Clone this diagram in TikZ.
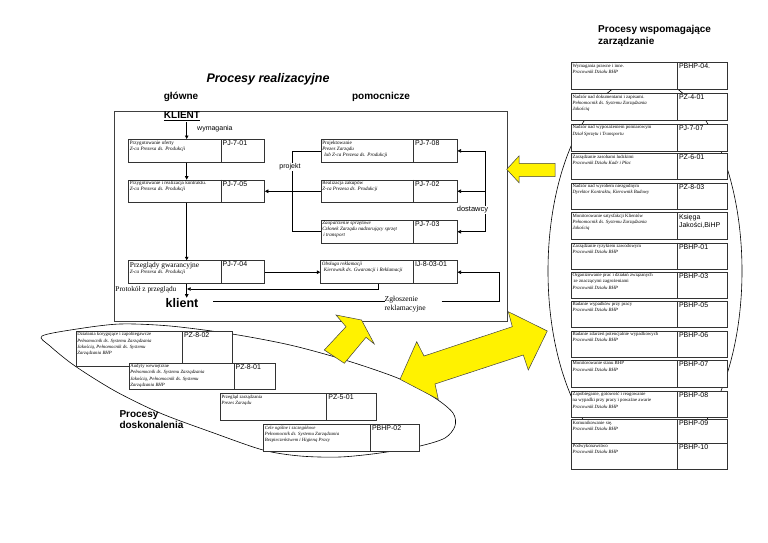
\documentclass[tikz,border=0pt]{standalone}
\usepackage{fontspec}
\setmainfont{Liberation Serif}
\setsansfont{Liberation Sans}
\usetikzlibrary{arrows.meta}
\tikzset{
  boxst/.style={draw=black!80, line width=0.8pt, fill=white, inner sep=0pt},
  boxtext/.style={anchor=north west, inner sep=1.4pt, align=left, font=\fontsize{5.1}{6}\selectfont},
  rtext/.style={font=\fontsize{4.8}{6.3}\selectfont},
  codest/.style={anchor=north west, inner sep=1.5pt, align=left, font=\sffamily\fontsize{7}{8}\selectfont},
  conn/.style={line width=0.6pt},
  arr/.style={line width=0.6pt, -{Triangle[length=3.5pt,width=3.5pt]}},
  yarrow/.style={fill=yellow, draw=black!75, line width=0.5pt, line join=miter},
  lbl/.style={font=\sffamily\fontsize{7}{8}\selectfont, inner sep=1pt},
  ttl/.style={font=\sffamily\bfseries\fontsize{10}{12}\selectfont, inner sep=1pt},
}
\newcommand\procbox[9][]{%
  \pgfmathsetmacro\pbw{#5-#3}%
  \pgfmathsetmacro\pbh{#7-#6}%
  \node[boxst, minimum width=\pbw pt, minimum height=\pbh pt, anchor=north west] (#2) at (#3,#6) {};
  \draw[draw=black!80, line width=0.8pt] (#4,#6) -- (#4,#7);
  \node[boxtext,#1] at (#2.north west) {#8};
  \node[codest] at (#4,#6) {#9};
}
\begin{document}
\begin{tikzpicture}[x=1pt,y=-1pt]
\useasboundingbox (0,0) rectangle (768,543);

% improvement loop
\draw[line width=0.6pt] plot[smooth cycle, tension=0.5] coordinates {
 (42,336) (77,329) (120,324) (170,326) (232,334) (290,345) (345,360) (400,379) (435,398)
 (453,413) (455,426) (445,438) (420,446) (380,453) (340,457) (300,456) (263,450)
 (211,432) (160,413) (115,391) (75,366) (50,346)};
% support ellipse
\draw[line width=0.6pt] (645,271) ellipse [x radius=97pt, y radius=193pt];

% titles
\node[font=\sffamily\bfseries\itshape\fontsize{12.5}{14}\selectfont] (t1) at (268,79) {Procesy realizacyjne};
\node[ttl] (t2) at (181,97) {główne};
\node[ttl] (t3) at (381,97) {pomocnicze};
\node[ttl, align=left, anchor=west] (t4) at (597,36) {Procesy wspomagające\\zarządzanie};
\node[font=\sffamily\bfseries\fontsize{10}{11.7}\selectfont, align=left, anchor=west, inner sep=0pt] (t5) at (119.3,419.5) {Procesy\\doskonalenia};

% main frame
\node[draw=black!75, line width=0.8pt, minimum width=393pt, minimum height=210pt, anchor=north west, inner sep=0pt] (frame) at (114,111) {};

\node[ttl] (klientA) at (182,116.5) {\underline{KLIENT}};
\node[lbl, anchor=west] (wym) at (196,128.5) {wymagania};

% main processes
\procbox{b701}{128.3}{221}{264}{139}{161.7}{Przygotowanie oferty\\\textit{Z-ca Prezesa ds. Produkcji}}{PJ-7-01}
\procbox{b705}{128.3}{221}{264}{179.7}{202}{Przygotowanie i realizacja kontraktu.\\\textit{Z-ca Prezesa ds. Produkcji}}{PJ-7-05}
\procbox{b704}{128.3}{221}{264}{260.3}{283.3}{{\fontsize{7.4}{8.4}\selectfont Przeglądy gwarancyjne}\\\textit{Z-ca Prezesa ds. Produkcji}}{PJ-7-04}
\procbox{b708}{320.7}{413.3}{456.7}{139}{162}{Projektowanie\\\textit{Prezes Zarządu}\\\hspace{2pt}\textit{lub Z-ca Prezesa ds. Produkcji}}{PJ-7-08}
\procbox{b702}{320.7}{413.3}{456.7}{179.7}{202}{Realizacja zakupów\\\textit{Z-ca Prezesa ds. Produkcji}}{PJ-7-02}
\procbox{b703}{320.7}{413.3}{456.7}{220}{242.7}{\textit{Zaopatrzenie sprzętowe}\\\textit{Członek Zarządu nadzorujący sprzęt}\\\hspace{1pt}\textit{i transport}}{PJ-7-03}
\procbox{b803}{320.3}{413.3}{456.7}{260.3}{283.3}{\textit{Obsługa reklamacji}\\\hspace{2pt}\textit{Kierownik ds. Gwarancji i Reklamacji}}{IJ-8-03-01}

\coordinate (kx) at (186.7,0);
\node[font=\sffamily\bfseries\fontsize{12.5}{14}\selectfont, inner sep=1pt] (klientB) at (182,303.5) {klient};
\draw[arr] (kx |- klientA.south) -- (kx |- b701.north);
\draw[arr] (kx |- b701.south) -- (kx |- b705.north);
\draw[arr] (kx |- b705.south) -- (kx |- b704.north);
\draw[arr] (kx |- b704.south) -- (kx |- klientB.north);
\draw[arr] (b704.east) -- (b803.west);
\coordinate (c1) at (378.3,289);
\coordinate (pk) at (187.2,289);
\draw[arr] (b803.south -| c1) -- (c1) -- (pk);
\node[font=\fontsize{7.3}{8}\selectfont, anchor=east, inner sep=0pt] (prot) at (176.5,289.3) {Protokół z przeglądu};

% complaint
\node[font=\fontsize{7.6}{9}\selectfont, align=left, anchor=west, inner sep=0pt] (zg) at (384.5,304.5) {Zgłoszenie\\reklamacyjne};
\coordinate (zl) at (213.3,301);
\coordinate (zm) at (441.7,301);
\coordinate (zr) at (499.3,301);
\draw[conn] (zl) -- (zg.west |- zl);
\draw[arr] (zm) -- (zr) |- (b803.east);

% projekt
\coordinate (pj) at (292,0);
\draw[conn] (b708.west) -- (pj |- b708.west) -- (pj |- b703.west) -- (b703.west);
\draw[arr] (b702.west) -- (b705.east);
\node[lbl, fill=white] (proj) at (290,167) {projekt};

% dostawcy
\coordinate (ds) at (485,0);
\draw[conn] (ds |- b708.east) -- (ds |- b703.east);
\draw[arr] (ds |- b708.east) -- (b708.east);
\draw[arr] (ds |- b702.east) -- (b702.east);
\draw[arr] (ds |- b703.east) -- (b703.east);
\node[lbl, fill=white, font=\sffamily\fontsize{7.5}{8}\selectfont] (dost) at (472.5,210) {dostawcy};

% support processes
\procbox[rtext]{r04}{571}{677.3}{727}{62.3}{89}{Wymagania prawne i inne.\\\textit{Pracownik Działu BHP}}{PBHP-04.}
\procbox[rtext]{r401}{571}{677.3}{727}{93.3}{120}{Nadzór nad dokumentami i zapisami.\\\textit{Pełnomocnik ds. Systemu Zarządzania}\\\textit{Jakością}}{PZ-4-01}
\procbox[rtext]{r707}{571}{677.3}{727}{124}{150.7}{Nadzór nad wyposażeniem pomiarowym\\\textit{Dział Sprzętu i Transportu}}{PJ-7-07}
\procbox[rtext]{r601}{571}{677.3}{727}{153.3}{179.3}{Zarządzanie zasobami ludzkimi\\\textit{Pracownik Działu Kadr i Płac}}{PZ-6-01}
\procbox[rtext]{r803}{571}{677.3}{727}{182.7}{209.3}{Nadzór nad wyrobem niezgodnym\\\textit{Dyrektor Kontraktu, Kierownik Budowy}}{PZ-8-03}
\procbox[rtext]{rks}{571}{677.3}{727}{212.3}{238.7}{Monitorowanie satysfakcji Klientów\\\textit{Pełnomocnik ds. Systemu Zarządzania}\\\textit{Jakością}}{Księga\\Jakości,BiHP}
\procbox[rtext]{r01}{571}{677.3}{727}{242.7}{269.3}{Zarządzanie ryzykiem zawodowym\\\textit{Pracownik Działu BHP}}{PBHP-01}
\procbox[rtext]{r03}{571}{677.3}{727}{271.7}{298.3}{Organizowanie prac i działań związanych\\\hspace{1pt}ze znaczącymi zagrożeniami\\\textit{Pracownik Działu BHP}}{PBHP-03}
\procbox[rtext]{r05}{571}{677.3}{727}{300.7}{327.3}{Badanie wypadków przy pracy\\\textit{Pracownik Działu BHP}}{PBHP-05}
\procbox[rtext]{r06}{571}{677.3}{727}{330.7}{357.3}{Badanie zdarzeń potencjalnie wypadkowych\\\textit{Pracownik Działu BHP}}{PBHP-06}
\procbox[rtext]{r07}{571}{677.3}{727}{360}{386.7}{Monitorowanie stanu BHP\\\textit{Pracownik Działu BHP}}{PBHP-07}
\procbox[rtext]{r08}{571}{677.3}{727}{390.7}{417.3}{Zapobieganie, gotowość i reagowanie\\na wypadki przy pracy i poważne awarie\\\textit{Pracownik Działu BHP}}{PBHP-08}
\procbox[rtext]{r09}{571}{677.3}{727}{419.3}{442.7}{Komunikowanie się.\\\textit{Pracownik Działu BHP}}{PBHP-09}
\procbox[rtext]{r10}{571}{677.3}{727}{442.7}{469.3}{Podwykonawstwo\\\textit{Pracownik Działu BHP}}{PBHP-10}

% improvement processes
\procbox[rtext]{d802}{75.7}{182.3}{231.7}{331}{366}{Działania korygujące i zapobiegawcze\\\textit{Pełnomocnik ds. Systemu Zarządzania}\\\textit{Jakością, Pełnomocnik ds. Systemu}\\\textit{Zarządzania BHP}}{PZ-8-02}
\procbox[rtext]{d801}{128.7}{234}{275}{362.7}{389.3}{Audyty wewnętrzne\\\textit{Pełnomocnik ds. Systemu Zarządzania}\\\textit{Jakością, Pełnomocnik ds. Systemu}\\\textit{Zarządzania BHP}}{PZ-8-01}
\procbox[rtext]{d501}{220}{326.7}{375.7}{393.3}{420}{Przegląd zarządzania\\\textit{Prezes Zarządu}}{PZ-5-01}
\procbox[rtext]{d02}{263.3}{370.3}{419.3}{424.3}{451}{\textit{Cele ogólne i szczegółowe}\\\textit{Pełnomocnik ds. Systemu Zarządzania}\\\textit{Bezpieczeństwem i Higieną Pracy}}{PBHP-02}

% yellow arrows
\draw[yarrow] (506.7,169.3) -- (519,156) -- (519,163.3) -- (555,163.3) -- (555,176.7) -- (519,176.7) -- (519,182.7) -- cycle;
\draw[yarrow] (336,315) -- (361.5,320) -- (374.3,344) -- (366,337.3) -- (344.3,363.3) -- (324.3,350) -- (346,326.7) -- cycle;
\draw[yarrow] (400,379.3) -- (416.7,341.7) -- (424,356) -- (512.3,326.7) -- (508.3,311.7) -- (547.3,331) -- (528.3,370) -- (523.3,355) -- (435,384) -- (438.3,399.3) -- cycle;
\end{tikzpicture}
\end{document}
